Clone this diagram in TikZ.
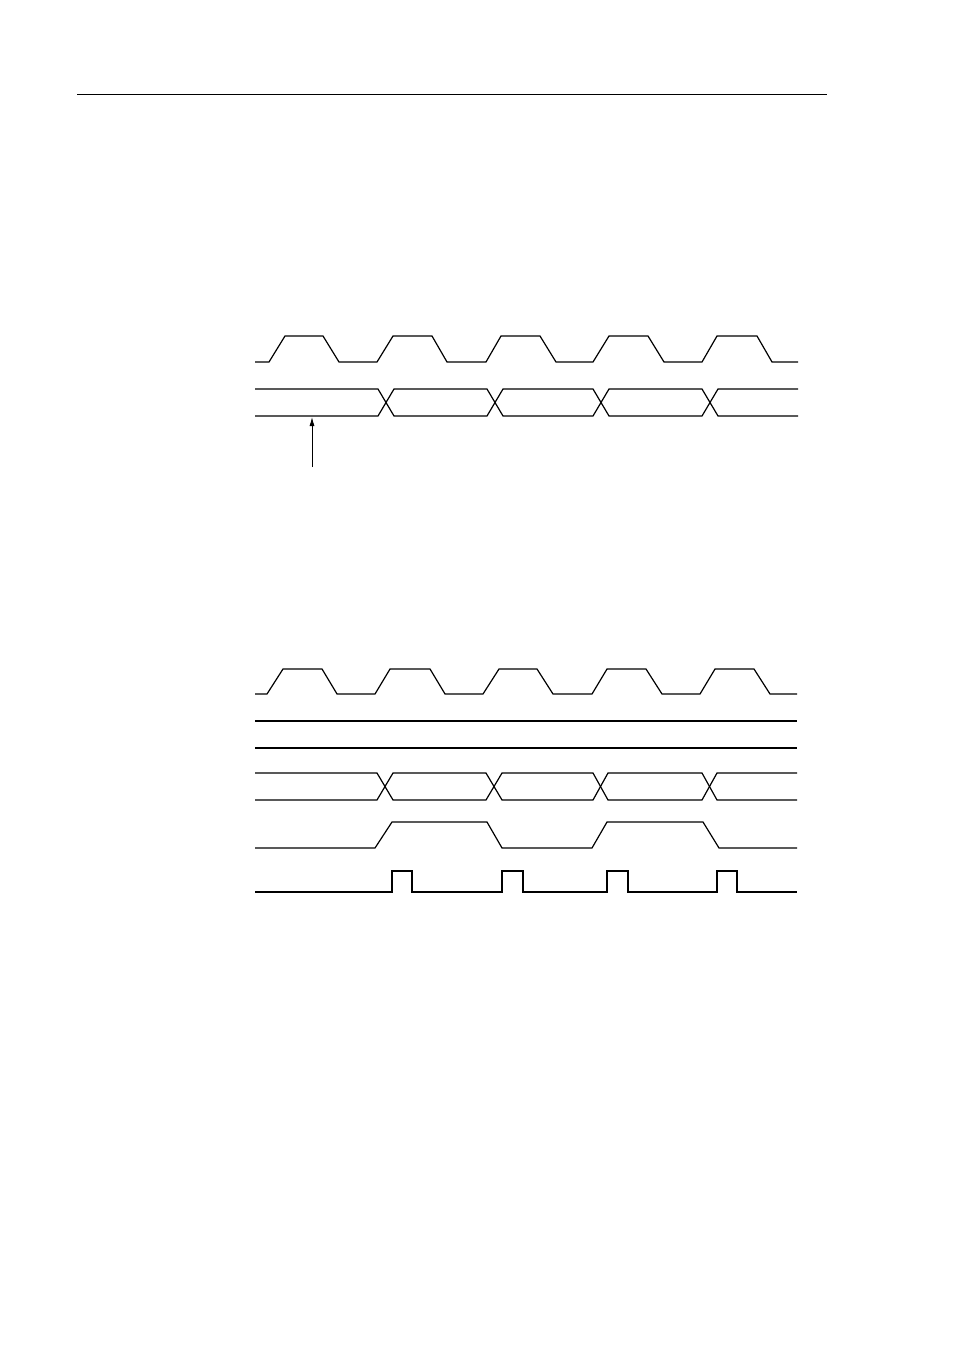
\documentclass[tikz,border=0pt]{standalone}
\usetikzlibrary{arrows.meta}
\begin{document}
\begin{tikzpicture}[x=1pt,y=-1pt,
  wave/.style={line width=1.2pt,line join=miter,black},
  thickwave/.style={line width=1.8pt,line join=miter,black},
  rule/.style={line width=1pt,black},
  pointer/.style={line width=0.9pt,-{Latex[length=9pt,width=5pt]}}]
\useasboundingbox (0,0) rectangle (954,1351);
% header rule
\coordinate (ruleL) at (77,94.5);
\coordinate (ruleR) at (827,94.5);
\draw[rule] (ruleL) -- (ruleR);

% ===== upper timing diagram =====
% clock
\draw[wave] (255,362) -- (269,362) -- (285,336) -- (323,336) -- (339,362)
  -- (377,362) -- (393,336) -- (432,336) -- (447,362)
  -- (486,362) -- (501,336) -- (540,336) -- (556,362)
  -- (593,362) -- (609,336) -- (648,336) -- (664,362)
  -- (702,362) -- (717,336) -- (757,336) -- (772,362) -- (798,362);
% data bus
\draw[wave] (255,389) -- (378,389) -- (394,416) -- (487,416) -- (503,389)
  -- (593,389) -- (609,416) -- (702,416) -- (718,389) -- (798,389);
\draw[wave] (255,416) -- (378,416) -- (394,389) -- (487,389) -- (503,416)
  -- (593,416) -- (609,389) -- (702,389) -- (718,416) -- (798,416);
% pointer
\coordinate (ptail) at (312,467);
\coordinate (ptip) at (312,417);
\draw[pointer] (ptail) -- (ptip);

% ===== lower timing diagram =====
% clock
\draw[wave] (255,694) -- (267,694) -- (283,669) -- (322,669) -- (337,694)
  -- (375,694) -- (390,669) -- (430,669) -- (445,694)
  -- (483,694) -- (499,669) -- (537,669) -- (553,694)
  -- (592,694) -- (607,669) -- (646,669) -- (662,694)
  -- (700,694) -- (715,669) -- (754,669) -- (770,694) -- (797,694);
% static lines
\draw[wave] (255,721) -- (797,721);
\draw[wave] (255,748) -- (797,748);
% data bus
\draw[wave] (255,773) -- (377,773) -- (393,800) -- (486,800) -- (502,773)
  -- (593,773) -- (608,800) -- (702,800) -- (717,773) -- (797,773);
\draw[wave] (255,800) -- (377,800) -- (393,773) -- (486,773) -- (502,800)
  -- (593,800) -- (608,773) -- (702,773) -- (717,800) -- (797,800);
% toggle signal
\draw[wave] (255,848) -- (375,848) -- (392,822) -- (487,822) -- (502,848)
  -- (592,848) -- (607,822) -- (703,822) -- (719,848) -- (797,848);
% strobe pulses
\draw[thickwave] (255,892) -- (392,892) -- (392,871) -- (412,871) -- (412,892)
  -- (502,892) -- (502,871) -- (523,871) -- (523,892)
  -- (607,892) -- (607,871) -- (628,871) -- (628,892)
  -- (717,892) -- (717,871) -- (737,871) -- (737,892) -- (797,892);
\end{tikzpicture}
\end{document}
